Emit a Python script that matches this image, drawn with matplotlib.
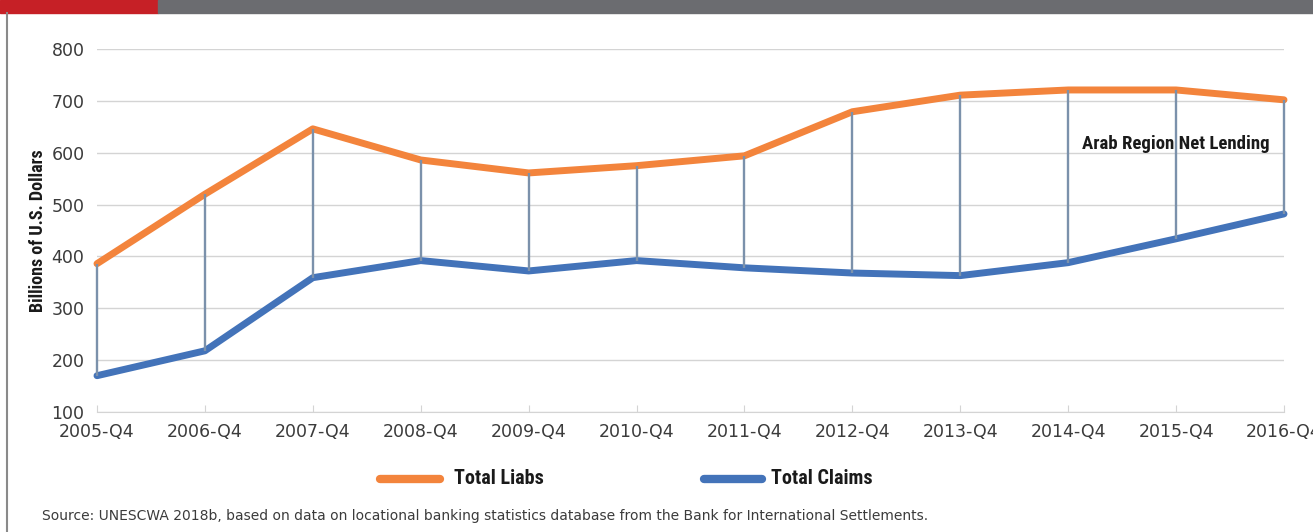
import numpy as np
import matplotlib.pyplot as plt
from matplotlib.lines import Line2D
from matplotlib.patches import Rectangle
from matplotlib import font_manager

# 데이터
quarters = ['2005-Q4', '2006-Q4', '2007-Q4', '2008-Q4', '2009-Q4', '2010-Q4',
            '2011-Q4', '2012-Q4', '2013-Q4', '2014-Q4', '2015-Q4', '2016-Q4']
total_liabs = [386, 520, 646, 586, 561, 575, 594, 679, 711, 721, 721, 702]
total_claims = [170, 218, 359, 392, 372, 392, 378, 368, 363, 388, 434, 482]
y_ticks = [100, 200, 300, 400, 500, 600, 700, 800]

orange = '#f3843c'
blue = '#4373b9'
hilo = '#7b91ab'
text_col = '#3b3b3b'

# 좁은 굵은 글꼴 찾기
names = {f.name for f in font_manager.fontManager.ttflist}
cands = ['Liberation Sans Narrow', 'DejaVu Sans Condensed', 'Roboto Condensed',
         'Open Sans Condensed']
narrow = [n for n in cands if n in names] + ['DejaVu Sans']
found = len(narrow) > 1

fig = plt.figure(figsize=(13.13, 5.32), dpi=100)

# 상단 띠와 왼쪽 테두리
fig.patches.append(Rectangle((0, 1 - 13 / 532), 158 / 1313, 13 / 532,
                             transform=fig.transFigure, color='#c62026'))
fig.patches.append(Rectangle((158 / 1313, 1 - 13 / 532), 1, 13 / 532,
                             transform=fig.transFigure, color='#6b6c70'))
fig.add_artist(Line2D([7 / 1313, 7 / 1313], [0, 1 - 13 / 532],
                      transform=fig.transFigure, color='#8a8a8a', lw=1.5))

ax = fig.add_axes([97 / 1313, 1 - 412 / 532, (1284 - 97) / 1313, 363 / 532])
x = np.arange(len(quarters))

ax.plot(x, total_liabs, color=orange, lw=5, solid_capstyle='round',
        solid_joinstyle='round', zorder=3, clip_on=False)
ax.plot(x, total_claims, color=blue, lw=5, solid_capstyle='round',
        solid_joinstyle='round', zorder=3, clip_on=False)
ax.vlines(x, total_claims, total_liabs, color=hilo, lw=1.7, zorder=4,
          clip_on=False)

ax.set_xlim(0, len(quarters) - 1)
ax.set_ylim(100, 800)
ax.set_yticks(y_ticks)
ax.set_xticks(x)
ax.set_xticklabels(quarters)
ax.grid(axis='y', color='#d4d4d4', lw=1)
ax.set_axisbelow(True)
for s in ['top', 'right', 'left']:
    ax.spines[s].set_visible(False)
ax.spines['bottom'].set_color('#d4d4d4')
ax.tick_params(axis='y', length=0, pad=9, labelsize=12.5, labelcolor=text_col)
ax.tick_params(axis='x', direction='in', length=5, color='#d4d4d4', pad=8,
               labelsize=12.5, labelcolor=text_col)

bold_kw = dict(fontweight='bold', family=narrow, fontstretch='condensed',
               color='#1a1a1a')
shrink = 1.0 if found else 0.85

ax.set_ylabel('Billions of U.S. Dollars', fontsize=13 * shrink, labelpad=3,
              **bold_kw)

ax.text(10.0, 617, 'Arab Region Net Lending', fontsize=13.5 * shrink,
        ha='center', va='center', zorder=5, **bold_kw)

# 범례
fig.add_artist(Line2D([380 / 1313, 440 / 1313], [1 - 479 / 532] * 2,
                      transform=fig.transFigure, color=orange, lw=6,
                      solid_capstyle='round'))
fig.text(454 / 1313, 1 - 479 / 532, 'Total Liabs', fontsize=14.5 * shrink,
         va='center', **bold_kw)
fig.add_artist(Line2D([704 / 1313, 762 / 1313], [1 - 479 / 532] * 2,
                      transform=fig.transFigure, color=blue, lw=6,
                      solid_capstyle='round'))
fig.text(771 / 1313, 1 - 479 / 532, 'Total Claims', fontsize=14.5 * shrink,
         va='center', **bold_kw)

fig.text(42 / 1313, 1 - 516 / 532,
         'Source: UNESCWA 2018b, based on data on locational banking statistics '
         'database from the Bank for International Settlements.',
         fontsize=10, color=text_col, va='center')

fig.savefig('out.png', dpi=100)
